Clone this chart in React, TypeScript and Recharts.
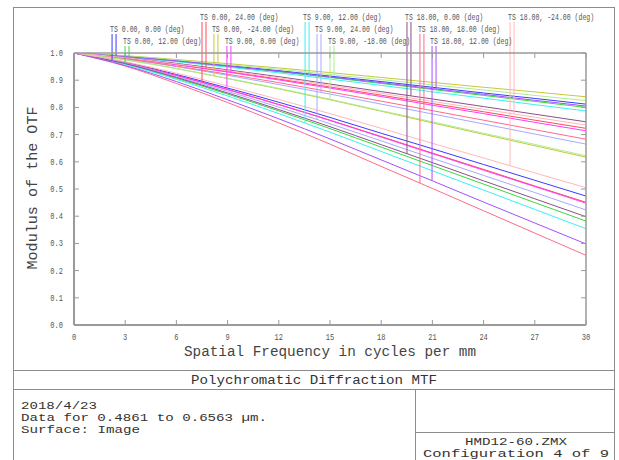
import React from 'react';
import { LineChart, Line, XAxis, YAxis, ReferenceLine } from 'recharts';

const freqs = [0, 3, 6, 9, 12, 15, 18, 21, 24, 27, 30];
const xTicks = [0, 3, 6, 9, 12, 15, 18, 21, 24, 27, 30];
const yTicks = [0, 0.1, 0.2, 0.3, 0.4, 0.5, 0.6, 0.7, 0.8, 0.9, 1.0];

const fieldLabels = [
  'TS 0.00, 0.00 (deg)', 'TS 0.00, 12.00 (deg)', 'TS 0.00, 24.00 (deg)', 'TS 0.00, -24.00 (deg)',
  'TS 9.00, 0.00 (deg)', 'TS 9.00, 12.00 (deg)', 'TS 9.00, 24.00 (deg)', 'TS 9.00, -18.00 (deg)',
  'TS 18.00, 0.00 (deg)', 'TS 18.00, 18.00 (deg)', 'TS 18.00, 12.00 (deg)', 'TS 18.00, -24.00 (deg)',
];
const fieldColors = [
  '#3a3aff', '#3ad83a', '#ff4a5a', '#c8c83a',
  '#ff3aff', '#3af0f0', '#a8a8ff', '#a8f090',
  '#8a508a', '#ff6a8a', '#a050ff', '#ffb8b8',
];
const legendFreqs = [2.23, 2.99, 7.5, 8.2, 8.96, 13.54, 14.24, 15.0, 19.51, 20.27, 20.98, 25.55];
const legendRows = [2, 3, 1, 2, 3, 1, 2, 3, 1, 2, 3, 1];

// upper (a) and lower (b) responses of each field
const f1a = [1, 0.988, 0.972, 0.954, 0.935, 0.915, 0.895, 0.874, 0.853, 0.833, 0.812];
const f1b = [1, 0.966, 0.921, 0.871, 0.819, 0.763, 0.705, 0.648, 0.59, 0.532, 0.474];
const f2a = [1, 0.987, 0.97, 0.951, 0.931, 0.91, 0.888, 0.866, 0.844, 0.822, 0.8];
const f2b = [1, 0.96, 0.907, 0.849, 0.787, 0.722, 0.654, 0.586, 0.518, 0.45, 0.382];
const f3a = [1, 0.982, 0.958, 0.932, 0.904, 0.875, 0.845, 0.814, 0.784, 0.753, 0.723];
const f3b = [1, 0.964, 0.918, 0.866, 0.811, 0.753, 0.693, 0.632, 0.572, 0.511, 0.451];
const f4a = [1, 0.99, 0.976, 0.961, 0.945, 0.928, 0.91, 0.892, 0.874, 0.857, 0.839];
const f4b = [1, 0.975, 0.943, 0.906, 0.868, 0.828, 0.786, 0.743, 0.701, 0.659, 0.617];
const f5a = [1, 0.981, 0.957, 0.93, 0.901, 0.871, 0.84, 0.808, 0.777, 0.745, 0.714];
const f5b = [1, 0.964, 0.917, 0.865, 0.81, 0.752, 0.691, 0.63, 0.569, 0.509, 0.448];
const f6a = [1, 0.986, 0.968, 0.948, 0.927, 0.904, 0.881, 0.857, 0.834, 0.81, 0.787];
const f6b = [1, 0.958, 0.903, 0.842, 0.777, 0.709, 0.638, 0.567, 0.496, 0.425, 0.354];
const f7a = [1, 0.978, 0.95, 0.918, 0.884, 0.849, 0.812, 0.776, 0.739, 0.702, 0.665];
const f7b = [1, 0.963, 0.913, 0.859, 0.801, 0.74, 0.677, 0.613, 0.55, 0.487, 0.423];
const f8a = [1, 0.989, 0.974, 0.957, 0.94, 0.921, 0.902, 0.883, 0.864, 0.844, 0.825];
const f8b = [1, 0.975, 0.943, 0.907, 0.87, 0.83, 0.788, 0.747, 0.705, 0.664, 0.622];
const f9a = [1, 0.984, 0.962, 0.938, 0.913, 0.886, 0.858, 0.831, 0.803, 0.775, 0.747];
const f9b = [1, 0.961, 0.91, 0.853, 0.792, 0.729, 0.663, 0.597, 0.53, 0.464, 0.398];
const f10a = [1, 0.979, 0.952, 0.922, 0.891, 0.857, 0.823, 0.788, 0.753, 0.718, 0.683];
const f10b = [1, 0.952, 0.888, 0.818, 0.743, 0.665, 0.583, 0.502, 0.42, 0.338, 0.256];
const f11a = [1, 0.987, 0.971, 0.952, 0.933, 0.912, 0.891, 0.869, 0.848, 0.826, 0.805];
const f11b = [1, 0.954, 0.895, 0.828, 0.758, 0.684, 0.607, 0.53, 0.452, 0.375, 0.298];
const f12a = [1, 0.983, 0.96, 0.935, 0.909, 0.881, 0.852, 0.822, 0.793, 0.764, 0.735];
const f12b = [1, 0.968, 0.926, 0.879, 0.829, 0.777, 0.723, 0.668, 0.614, 0.559, 0.505];

const upperCurves = [f1a, f2a, f3a, f4a, f5a, f6a, f7a, f8a, f9a, f10a, f11a, f12a];
const lowerCurves = [f1b, f2b, f3b, f4b, f5b, f6b, f7b, f8b, f9b, f10b, f11b, f12b];

const data = freqs.map((f, i) => {
  const row: Record<string, number> = { f };
  upperCurves.forEach((c, k) => { row[`a${k}`] = c[i]; });
  lowerCurves.forEach((c, k) => { row[`b${k}`] = c[i]; });
  return row;
});

const valueAt = (curve: number[], f: number) => {
  for (let i = 0; i < freqs.length - 1; i++) {
    if (f >= freqs[i] && f <= freqs[i + 1]) {
      const t = (f - freqs[i]) / (freqs[i + 1] - freqs[i]);
      return curve[i] + t * (curve[i + 1] - curve[i]);
    }
  }
  return curve[curve.length - 1];
};

const W = 619;
const H = 460;
const PLOT = { left: 74, right: 586, top: 53, bottom: 325 };
const LEFT_W = 60;
const RIGHT_W = 10;
const TOP_H = 10;
const BOTTOM_H = 30;
const M = {
  top: PLOT.top - TOP_H,
  right: W - PLOT.right - RIGHT_W,
  bottom: H - PLOT.bottom - BOTTOM_H,
  left: PLOT.left - LEFT_W,
};
const PW = PLOT.right - PLOT.left;
const PH = PLOT.bottom - PLOT.top;
const fx = (f: number) => PLOT.left + (f / 30) * PW;

const FONT = '"Liberation Mono", "Courier New", monospace';
const FRAME = '#8c8c8c';
const AXIS = '#9a9a9a';
const rowBase = [20, 32, 44];
const rowTopValue = (r: number) => 1 + (PLOT.top - (rowBase[r - 1] + 2)) / PH;

const YLeftTick = (props: any) => {
  const { x, y, payload } = props;
  const s = Number(payload.value).toFixed(1);
  return (
    <g>
      <line x1={x} y1={y} x2={x + 5} y2={y} stroke={AXIS} strokeWidth={1} />
      <g transform={`translate(${x - 11},${y + 3}) scale(0.78,1)`}>
        <text x={0} y={0} textAnchor="end" fontSize={9} fontFamily={FONT} fill="#555">{s}</text>
      </g>
    </g>
  );
};
const YRightTick = (props: any) => {
  const { x, y } = props;
  return <line x1={x} y1={y} x2={x - 5} y2={y} stroke={AXIS} strokeWidth={1} />;
};
const XBottomTick = (props: any) => {
  const { x, y, payload } = props;
  const s = String(payload.value);
  return (
    <g>
      <line x1={x} y1={y} x2={x} y2={y - 5} stroke={AXIS} strokeWidth={1} />
      <g transform={`translate(${x},${y + 15}) scale(0.78,1)`}>
        <text x={0} y={0} textAnchor="middle" fontSize={9} fontFamily={FONT} fill="#555">{s}</text>
      </g>
    </g>
  );
};
const XTopTick = (props: any) => {
  const { x, y } = props;
  return <line x1={x} y1={y} x2={x} y2={y + 5} stroke={AXIS} strokeWidth={1} />;
};

const infoText = { fontSize: 11, fontFamily: FONT, fill: '#333', lengthAdjust: 'spacingAndGlyphs' } as const;

export default function App() {
  return (
    <div style={{ position: 'absolute', left: 0, top: 0, width: W, height: H, background: '#fff' }}>
      <LineChart width={W} height={H} data={data} margin={M}>
        <XAxis dataKey="f" type="number" domain={[0, 30]} ticks={xTicks} interval={0}
          height={BOTTOM_H} tickSize={0} tickMargin={0} tickLine={false}
          axisLine={{ stroke: AXIS, strokeWidth: 2 }} tick={XBottomTick} allowDataOverflow />
        <XAxis xAxisId="top" orientation="top" dataKey="f" type="number" domain={[0, 30]} ticks={xTicks}
          interval={0} height={TOP_H} tickSize={0} tickMargin={0} tickLine={false}
          axisLine={{ stroke: AXIS, strokeWidth: 1.5 }} tick={XTopTick} allowDataOverflow />
        <YAxis type="number" domain={[0, 1]} ticks={yTicks} interval={0} width={LEFT_W} tickSize={0}
          tickMargin={0} tickLine={false} axisLine={{ stroke: AXIS, strokeWidth: 2 }} tick={YLeftTick}
          allowDataOverflow />
        <YAxis yAxisId="right" orientation="right" type="number" domain={[0, 1]} ticks={yTicks}
          interval={0} width={RIGHT_W} tickSize={0} tickMargin={0} tickLine={false}
          axisLine={{ stroke: AXIS, strokeWidth: 1.5 }} tick={YRightTick} allowDataOverflow />
        {fieldColors.map((c, k) => (
          <Line key={`a${k}`} dataKey={`a${k}`} type="monotone" stroke={c} strokeWidth={1}
            dot={false} activeDot={false} isAnimationActive={false} />
        ))}
        {fieldColors.map((c, k) => (
          <Line key={`b${k}`} dataKey={`b${k}`} type="monotone" stroke={c} strokeWidth={1}
            dot={false} activeDot={false} isAnimationActive={false} />
        ))}
        {fieldColors.map((c, k) => {
          const f1 = legendFreqs[k];
          const f2 = legendFreqs[k] + 0.234;
          const top = rowTopValue(legendRows[k]);
          return (
            <React.Fragment key={`leg${k}`}>
              <ReferenceLine ifOverflow="visible" stroke={c} strokeWidth={1}
                segment={[{ x: f1, y: top }, { x: f1, y: valueAt(lowerCurves[k], f1) }]} />
              <ReferenceLine ifOverflow="visible" stroke={c} strokeWidth={1}
                segment={[{ x: f2, y: top }, { x: f2, y: valueAt(upperCurves[k], f2) }]} />
            </React.Fragment>
          );
        })}
      </LineChart>
      <svg width={W} height={H} style={{ position: 'absolute', left: 0, top: 0, pointerEvents: 'none' }}>
        {/* outer frame */}
        <line x1={13.5} y1={7} x2={13.5} y2={H} stroke={FRAME} />
        <line x1={13} y1={7.5} x2={615} y2={7.5} stroke={FRAME} />
        <line x1={614.5} y1={7} x2={614.5} y2={H} stroke={FRAME} />
        <line x1={13} y1={370.5} x2={615} y2={370.5} stroke={FRAME} />
        <line x1={13} y1={389.5} x2={615} y2={389.5} stroke={FRAME} />
        <line x1={415.5} y1={389.5} x2={415.5} y2={H} stroke={FRAME} />
        <line x1={415.5} y1={432.5} x2={615} y2={432.5} stroke={FRAME} />
        {/* legend labels */}
        {fieldLabels.map((lab, k) => (
          <g key={lab} transform={`translate(${fx(legendFreqs[k]) - 2},${rowBase[legendRows[k] - 1]}) scale(0.725,1)`}>
            <text x={0} y={0} fontSize={9} fontFamily={FONT} fill="#555">{lab}</text>
          </g>
        ))}
        {/* axis titles */}
        <text x={330} y={356} textAnchor="middle" fontSize={14} fontFamily={FONT} fill="#444"
          textLength={292} lengthAdjust="spacingAndGlyphs">
          Spatial Frequency in cycles per mm
        </text>
        <text x={37} y={188} textAnchor="middle" fontSize={14} fontFamily={FONT} fill="#444"
          transform="rotate(-90 37 188)" textLength={163} lengthAdjust="spacingAndGlyphs">
          Modulus of the OTF
        </text>
        {/* info box */}
        <text x={314} y={384} textAnchor="middle" fontSize={13} fontFamily={FONT} fill="#333"
          textLength={246} lengthAdjust="spacingAndGlyphs">
          Polychromatic Diffraction MTF
        </text>
        <text x={21} y={409} {...infoText} textLength={76}>2018/4/23</text>
        <text x={21} y={421} {...infoText} textLength={246}>Data for 0.4861 to 0.6563 µm.</text>
        <text x={21} y={433} {...infoText} textLength={119}>Surface: Image</text>
        <text x={516} y={445} textAnchor="middle" {...infoText} textLength={102}>HMD12-60.ZMX</text>
        <text x={516} y={457} textAnchor="middle" {...infoText} textLength={186}>Configuration 4 of 9</text>
      </svg>
    </div>
  );
}
